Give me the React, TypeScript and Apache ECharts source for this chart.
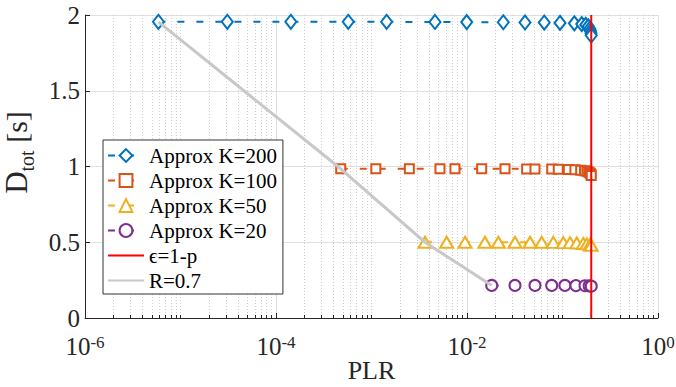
import React, { useEffect, useRef } from "react";
import * as echarts from "echarts";

// ---- data ----
const plr200 = [5.87e-6, 3.09e-5, 1.43e-4, 5.71e-4, 1.44e-3, 4.62e-3, 9.93e-3, 0.024, 0.0405, 0.0644, 0.0942, 0.133, 0.159, 0.175, 0.186, 0.193, 0.197, 0.199, 0.2];
const d200 = [1.955, 1.955, 1.955, 1.955, 1.955, 1.954, 1.953, 1.952, 1.951, 1.95, 1.948, 1.945, 1.94, 1.935, 1.925, 1.91, 1.895, 1.88, 1.865];

const plr100 = [4.76e-4, 1.11e-3, 2.49e-3, 5.21e-3, 7.48e-3, 0.01425, 0.025, 0.0421, 0.0515, 0.0771, 0.0903, 0.115, 0.135, 0.155, 0.17, 0.18, 0.188, 0.194, 0.198, 0.2];
const d100 = [0.985, 0.985, 0.985, 0.985, 0.985, 0.985, 0.985, 0.984, 0.984, 0.983, 0.982, 0.98, 0.978, 0.975, 0.972, 0.968, 0.963, 0.957, 0.95, 0.94];

const plr50 = [3.63e-3, 6.12e-3, 9.53e-3, 0.0154, 0.0213, 0.0318, 0.0457, 0.0605, 0.0801, 0.102, 0.12, 0.141, 0.165, 0.18, 0.194, 0.2];
const d50 = [0.5, 0.5, 0.5, 0.5, 0.5, 0.5, 0.5, 0.5, 0.499, 0.498, 0.497, 0.495, 0.492, 0.489, 0.485, 0.48];

const plr20 = [0.01815, 0.0318, 0.0515, 0.0771, 0.106, 0.138, 0.172, 0.19, 0.2];
const d20 = [0.215, 0.215, 0.215, 0.215, 0.215, 0.214, 0.213, 0.212, 0.21];

const epsPLR = 0.2;
const yTicks = [0, 0.5, 1, 1.5, 2];

const names = ["Approx K=200", "Approx K=100", "Approx K=50", "Approx K=20", "\u03F5=1-p", "R=0.7"];
const colors = ["#0072BD", "#D95319", "#EDB120", "#7E2F8E", "#FF0000", "#C8C8C8"];

const FONT = "'Liberation Serif', 'Times New Roman', serif";

// minor tick positions (log10 units) for the decorative minor grid
const minorTicks: number[] = [];
for (let e = -6; e < 0; e++) {
  for (let m = 1; m <= 9; m++) {
    if (m === 1 && e % 2 === 0) continue;
    minorTicks.push(e + Math.log10(m));
  }
}

const zip = (xs: number[], ys: number[]) => xs.map((x, i) => [x, ys[i]]);

export default function App() {
  const ref = useRef<HTMLDivElement>(null);
  useEffect(() => {
    if (!ref.current) return;
    const chart = echarts.init(ref.current, undefined, { renderer: "svg" });
    const dashed = (c: string) => ({ color: c, width: 2, type: [7, 12] as any });
    const markerSeries = (i: number, xs: number[], ys: number[], symbol: string, size: any) => ({
      name: names[i],
      type: "line",
      xAxisIndex: 0,
      data: zip(xs, ys),
      symbol,
      symbolSize: size,
      showSymbol: true,
      lineStyle: dashed(colors[i]),
      itemStyle: { color: colors[i], borderColor: colors[i], borderWidth: 2 },
      z: 3,
    });
    const grayData = [
      [plr200[0], d200[0]],
      [plr100[0], d100[0]],
      [plr50[0], d50[0]],
      [plr20[0], d20[0]],
    ];
    const hidden = { color: "rgba(0,0,0,0)", borderColor: "rgba(0,0,0,0)", opacity: 0 };
    chart.setOption({
      animation: false,
      backgroundColor: "#ffffff",
      textStyle: { fontFamily: FONT },
      grid: { left: 85, right: 18, top: 15, bottom: 69, containLabel: false, outerBoundsMode: "none" },
      legend: {
        show: true,
        data: names.map((n, i) => (i >= 4 ? { name: n, itemStyle: hidden } : { name: n })),
        orient: "vertical",
        left: 103,
        top: 140,
        padding: [3, 6, 1, 4],
        itemGap: 0,
        itemWidth: 36,
        itemHeight: 16,
        backgroundColor: "#ffffff",
        borderColor: "#333333",
        borderWidth: 1,
        borderRadius: 0,
        textStyle: { fontFamily: FONT, fontSize: 21, color: "#000", lineHeight: 25 },
      },
      xAxis: [
        {
          type: "log",
          logBase: 10,
          min: 1e-6,
          max: 1,
          interval: 2,
          name: "PLR",
          nameLocation: "middle",
          nameGap: 39,
          nameMoveOverlap: false,
          nameTextStyle: { fontFamily: FONT, fontSize: 26, lineHeight: 26, color: "#262626" },
          axisLine: { show: true, onZero: false, lineStyle: { color: "#262626", width: 1 } },
          axisTick: { show: true, inside: true, length: 5, lineStyle: { color: "#262626" } },
          axisLabel: {
            margin: 16,
            color: "#262626",
            formatter: (v: number) => `{b|10}{s|${Math.round(Math.log10(v))}}`,
            rich: {
              b: { fontFamily: FONT, fontSize: 25, lineHeight: 25, verticalAlign: "bottom", color: "#262626" },
              s: { fontFamily: FONT, fontSize: 17, lineHeight: 17, verticalAlign: "top", color: "#262626" },
            },
          },
          splitLine: { show: true, lineStyle: { color: "#dfdfdf", width: 1 } },
          minorTick: { show: false },
          minorSplitLine: { show: false },
        },
        {
          type: "value",
          min: -6,
          max: 0,
          position: "bottom",
          axisLine: { show: false },
          axisLabel: { show: false },
          axisTick: { show: true, inside: true, length: 3, customValues: minorTicks, lineStyle: { color: "#262626" } },
          splitLine: { show: true, lineStyle: { color: "#cfcfcf", width: 1, type: [1, 2] } },
        },
      ],
      yAxis: {
        type: "value",
        min: 0,
        max: 2,
        interval: 0.5,
        name: "{D|D}{sub|tot}{u| [s]}",
        nameLocation: "middle",
        nameRotate: 90,
        nameGap: 48,
        nameMoveOverlap: false,
        nameTextStyle: {
          color: "#262626",
          padding: [0, 0, 0, 28],
          rich: {
            D: { fontFamily: FONT, fontSize: 31, lineHeight: 42, verticalAlign: "middle", color: "#262626" },
            sub: { fontFamily: FONT, fontSize: 20, lineHeight: 20, verticalAlign: "bottom", color: "#262626" },
            u: { fontFamily: FONT, fontSize: 30, lineHeight: 42, verticalAlign: "middle", color: "#262626" },
          },
        },
        axisLine: { show: true, onZero: false, lineStyle: { color: "#262626", width: 1 } },
        axisTick: { show: true, inside: true, length: 5, lineStyle: { color: "#262626" } },
        axisLabel: {
          margin: 5,
          color: "#262626",
          fontFamily: FONT,
          fontSize: 25,
          formatter: (v: number) => (yTicks.includes(v) ? String(v) : ""),
        },
        splitLine: { show: true, lineStyle: { color: "#dfdfdf", width: 1 } },
      },
      series: [
        markerSeries(0, plr200, d200, "emptyDiamond", [11, 14]),
        markerSeries(1, plr100, d100, "emptyRect", 9),
        markerSeries(2, plr50, d50, "emptyTriangle", [13, 11]),
        markerSeries(3, plr20, d20, "emptyCircle", 11),
        {
          name: names[4],
          type: "line",
          data: [
            [epsPLR, 0],
            [epsPLR, 2],
          ],
          symbol: "none",
          showSymbol: false,
          lineStyle: { color: colors[4], width: 2 },
          itemStyle: { color: colors[4] },
          z: 4,
        },
        {
          name: names[5],
          type: "line",
          data: grayData,
          symbol: "none",
          showSymbol: false,
          lineStyle: { color: colors[5], width: 3 },
          itemStyle: { color: colors[5] },
          z: 5,
        },
      ],
    });
    return () => chart.dispose();
  }, []);
  return <div ref={ref} style={{ position: "fixed", left: 0, top: 0, width: 676, height: 387 }} />;
}
